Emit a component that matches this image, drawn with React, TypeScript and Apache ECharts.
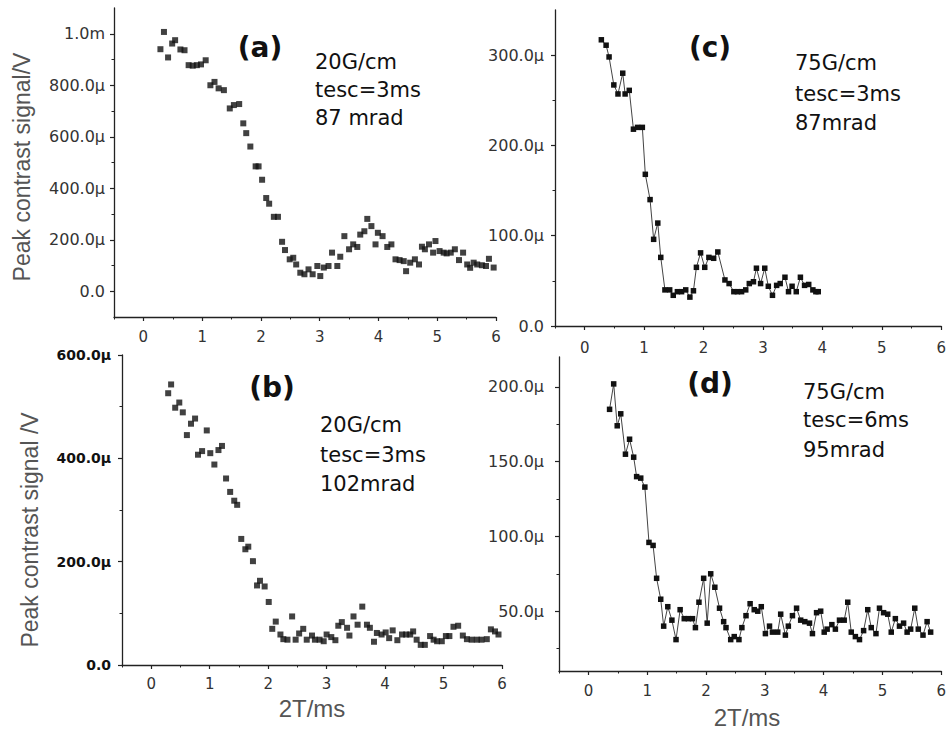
import React, { useEffect, useRef } from 'react';
import * as echarts from 'echarts';

// ---- Data (values in µV, time in ms) ----
const aX = [0.29,0.35,0.42,0.49,0.54,0.63,0.70,0.77,0.84,0.91,0.98,1.06,1.14,1.21,1.28,1.37,1.47,1.54,1.63,1.70,1.75,1.82,1.91,1.96,2.02,2.09,2.14,2.22,2.29,2.36,2.41,2.49,2.55,2.60,2.67,2.74,2.81,2.88,2.96,3.01,3.07,3.15,3.21,3.30,3.35,3.42,3.50,3.57,3.64,3.69,3.76,3.81,3.88,3.95,3.99,4.07,4.15,4.22,4.29,4.36,4.43,4.47,4.54,4.62,4.69,4.74,4.79,4.86,4.93,4.97,5.04,5.11,5.16,5.23,5.30,5.37,5.44,5.51,5.56,5.62,5.68,5.76,5.83,5.88,5.96];
const aY = [940,1007,908,962,975,939,936,878,876,878,881,897,800,813,788,781,710,723,727,652,614,562,485,485,433,362,340,289,289,192,160,124,130,104,72,66,85,66,98,59,92,98,150,98,134,214,163,182,172,220,233,281,253,182,227,214,172,182,124,121,117,78,111,124,104,173,163,182,150,195,156,150,147,150,163,121,150,104,91,111,104,101,98,126,92];

const bX = [0.29,0.34,0.41,0.48,0.54,0.61,0.68,0.75,0.80,0.87,0.95,1.01,1.08,1.15,1.21,1.28,1.35,1.42,1.47,1.54,1.61,1.66,1.74,1.81,1.86,1.94,2.01,2.07,2.13,2.21,2.26,2.33,2.41,2.47,2.53,2.60,2.66,2.75,2.80,2.88,2.95,3.00,3.08,3.15,3.20,3.26,3.35,3.39,3.46,3.53,3.61,3.69,3.74,3.81,3.86,3.94,4.01,4.07,4.13,4.21,4.29,4.36,4.43,4.48,4.54,4.61,4.68,4.77,4.83,4.89,4.97,5.04,5.10,5.17,5.25,5.33,5.40,5.48,5.57,5.65,5.74,5.81,5.88,5.94];
const bY = [526,543,498,508,489,445,467,477,407,414,454,410,388,416,424,361,335,318,310,244,224,229,201,154,163,152,122,70,84,59,50,49,94,49,61,70,49,57,49,49,46,59,54,48,76,83,72,57,94,78,113,78,72,45,62,59,63,52,67,48,59,59,59,65,49,39,39,56,49,46,46,56,56,74,76,57,50,49,49,49,50,69,65,59];

const cX = [0.28,0.36,0.41,0.49,0.56,0.64,0.68,0.75,0.82,0.89,0.97,1.02,1.10,1.16,1.23,1.28,1.35,1.43,1.49,1.56,1.63,1.70,1.77,1.83,1.88,1.95,2.02,2.09,2.17,2.24,2.36,2.43,2.51,2.57,2.64,2.71,2.77,2.84,2.89,2.96,3.03,3.09,3.16,3.23,3.29,3.37,3.43,3.49,3.56,3.63,3.70,3.77,3.84,3.89,3.93];
const cY = [317,311,298,267,257,280,257,261,218,220,220,168,140,96,114,76,40,40,34,38,38,40,32,39,65,81,65,76,75,82,51,47,38,38,38,40,47,49,64,47,64,44,34,45,47,54,38,44,38,54,45,46,40,38,38];

const dX = [0.36,0.43,0.49,0.55,0.63,0.70,0.77,0.82,0.89,0.96,1.03,1.10,1.16,1.23,1.28,1.35,1.42,1.49,1.56,1.63,1.70,1.77,1.82,1.88,1.96,2.02,2.08,2.15,2.23,2.30,2.34,2.42,2.48,2.56,2.61,2.68,2.75,2.82,2.88,2.94,3.01,3.08,3.13,3.22,3.27,3.35,3.40,3.47,3.54,3.61,3.68,3.76,3.81,3.88,3.95,4.01,4.06,4.14,4.20,4.27,4.35,4.41,4.47,4.54,4.61,4.68,4.75,4.81,4.89,4.95,5.02,5.09,5.15,5.22,5.29,5.36,5.42,5.48,5.55,5.61,5.69,5.76,5.82];
const dY = [185,202,174,182,155,165,153,140,139,133,96,94,72,58,40,53,44,31,51,45,45,45,39,56,72,42,75,66,52,43,39,31,33,31,39,47,55,51,50,53,35,40,36,36,48,34,40,47,52,44,43,42,35,49,50,36,38,41,38,44,44,56,36,33,31,37,51,39,35,52,49,48,36,45,40,42,36,38,52,38,34,43,36];

const X_TICKS = [0, 1, 2, 3, 4, 5, 6];
const X_MINOR = [-0.5, 0.5, 1.5, 2.5, 3.5, 4.5, 5.5];
const A_TICKS = [0, 200, 400, 600, 800, 1000];
const A_MINOR = [100, 300, 500, 700, 900];
const B_TICKS = [0, 200, 400, 600];
const B_MINOR = [100, 300, 500];
const C_TICKS = [0, 100, 200, 300];
const C_MINOR = [50, 150, 250];
const D_TICKS = [50, 100, 150, 200];
const D_MINOR = [25, 75, 125, 175];

const fmt = (v: number) => {
  if (v === 0) return '0.0';
  if (v >= 1000) return (v / 1000).toFixed(1) + 'm';
  return v.toFixed(1) + 'µ';
};

const zip = (xs: number[], ys: number[]) => xs.map((x, i) => [x, ys[i]]);

const AXIS_COLOR = '#222';
const LABEL_FONT = 'DejaVu Sans';

function xAxesFor(gi: number, margin: number) {
  return [
    {
      type: 'value', gridIndex: gi, min: -0.5, max: 6, position: 'bottom',
      axisLine: { onZero: false, lineStyle: { color: AXIS_COLOR, width: 1.3 } },
      axisTick: { customValues: X_TICKS, length: 4, lineStyle: { color: AXIS_COLOR, width: 1.2 } },
      axisLabel: { customValues: X_TICKS, formatter: (v: number) => String(v), color: '#333', fontFamily: LABEL_FONT, fontSize: 15, margin },
      splitLine: { show: false },
    },
    {
      type: 'value', gridIndex: gi, min: -0.5, max: 6, position: 'bottom',
      axisLine: { show: false, onZero: false },
      axisTick: { customValues: X_MINOR, length: 2.5, lineStyle: { color: AXIS_COLOR, width: 1 } },
      axisLabel: { show: false },
      splitLine: { show: false },
    },
  ];
}

function yAxesFor(gi: number, min: number, max: number, ticks: number[], minor: number[], bold: boolean, margin: number) {
  return [
    {
      type: 'value', gridIndex: gi, min, max, position: 'left',
      axisLine: { show: true, onZero: false, lineStyle: { color: AXIS_COLOR, width: 1.3 } },
      axisTick: { show: true, customValues: ticks, length: 4, lineStyle: { color: AXIS_COLOR, width: 1.2 } },
      axisLabel: {
        customValues: ticks, formatter: fmt,
        color: bold ? '#111' : '#333', fontFamily: LABEL_FONT,
        fontSize: bold ? 14 : 16, fontWeight: bold ? 'bold' : 'normal', margin,
      },
      splitLine: { show: false },
    },
    {
      type: 'value', gridIndex: gi, min, max, position: 'left',
      axisLine: { show: false, onZero: false },
      axisTick: { show: true, customValues: minor, length: 2.5, lineStyle: { color: AXIS_COLOR, width: 1 } },
      axisLabel: { show: false },
      splitLine: { show: false },
    },
  ];
}

function textEl(text: string, x: number, y: number, font: string, align = 'left', fill = '#111', rotation = 0) {
  return {
    type: 'text', x, y, rotation,
    style: { text, font, align, verticalAlign: 'middle', fill },
  };
}

export default function App() {
  const ref = useRef<HTMLDivElement>(null);
  useEffect(() => {
    if (!ref.current) return;
    const chart = echarts.init(ref.current, undefined, { renderer: 'svg' });
    const annoFont = '21px "DejaVu Sans"';
    const letterFont = 'bold 28px "DejaVu Sans"';
    const titleFont = '23px "Liberation Sans"';
    chart.setOption({
      animation: false,
      backgroundColor: '#ffffff',
      grid: [
        { left: 114, top: 8, width: 382, height: 309 },
        { left: 122, top: 355, width: 380, height: 310 },
        { left: 555, top: 10, width: 390, height: 316 },
        { left: 559, top: 357, width: 384, height: 314 },
      ],
      xAxis: [...xAxesFor(0, 12), ...xAxesFor(1, 11), ...xAxesFor(2, 14), ...xAxesFor(3, 12)],
      yAxis: [
        ...yAxesFor(0, -100, 1100, A_TICKS, A_MINOR, false, 9),
        ...yAxesFor(1, 0, 600, B_TICKS, B_MINOR, true, 11),
        ...yAxesFor(2, 0, 350, C_TICKS, C_MINOR, false, 11),
        ...yAxesFor(3, 10, 220, D_TICKS, D_MINOR, false, 15),
      ],
      series: [
        {
          type: 'scatter', xAxisIndex: 0, yAxisIndex: 0, data: zip(aX, aY),
          symbol: 'rect', symbolSize: 6, itemStyle: { color: '#111' },
        },
        {
          type: 'scatter', xAxisIndex: 2, yAxisIndex: 2, data: zip(bX, bY),
          symbol: 'rect', symbolSize: 6, itemStyle: { color: '#111' },
        },
        {
          type: 'line', xAxisIndex: 4, yAxisIndex: 4, data: zip(cX, cY),
          symbol: 'rect', symbolSize: 5.5, itemStyle: { color: '#111' },
          lineStyle: { color: '#444', width: 1 },
        },
        {
          type: 'line', xAxisIndex: 6, yAxisIndex: 6, data: zip(dX, dY),
          symbol: 'rect', symbolSize: 5.5, itemStyle: { color: '#111' },
          lineStyle: { color: '#444', width: 1 },
        },
      ],
      graphic: [
        textEl('(a)', 260, 47, letterFont, 'center'),
        textEl('20G/cm', 315, 62, annoFont),
        textEl('tesc=3ms', 315, 90, annoFont),
        textEl('87 mrad', 315, 118, annoFont),
        textEl('(b)', 272, 387, letterFont, 'center'),
        textEl('20G/cm', 320, 425, annoFont),
        textEl('tesc=3ms', 320, 455, annoFont),
        textEl('102mrad', 320, 484, annoFont),
        textEl('(c)', 710, 47, letterFont, 'center'),
        textEl('75G/cm', 795, 63, annoFont),
        textEl('tesc=3ms', 795, 94, annoFont),
        textEl('87mrad', 795, 123, annoFont),
        textEl('(d)', 710, 383, letterFont, 'center'),
        textEl('75G/cm', 803, 392, annoFont),
        textEl('tesc=6ms', 803, 420, annoFont),
        textEl('95mrad', 803, 450, annoFont),
        textEl('Peak contrast signal/V', 22, 167, titleFont, 'center', '#555', Math.PI / 2),
        textEl('Peak contrast signal /V', 30, 530, titleFont, 'center', '#555', Math.PI / 2),
        textEl('2T/ms', 312, 708, '24px "Liberation Sans"', 'center', '#555'),
        textEl('2T/ms', 747, 717, '24px "Liberation Sans"', 'center', '#555'),
      ],
    });
    return () => chart.dispose();
  }, []);
  return (
    <div
      ref={ref}
      style={{ position: 'fixed', left: 0, top: 0, width: 949, height: 729, background: '#fff' }}
    />
  );
}
